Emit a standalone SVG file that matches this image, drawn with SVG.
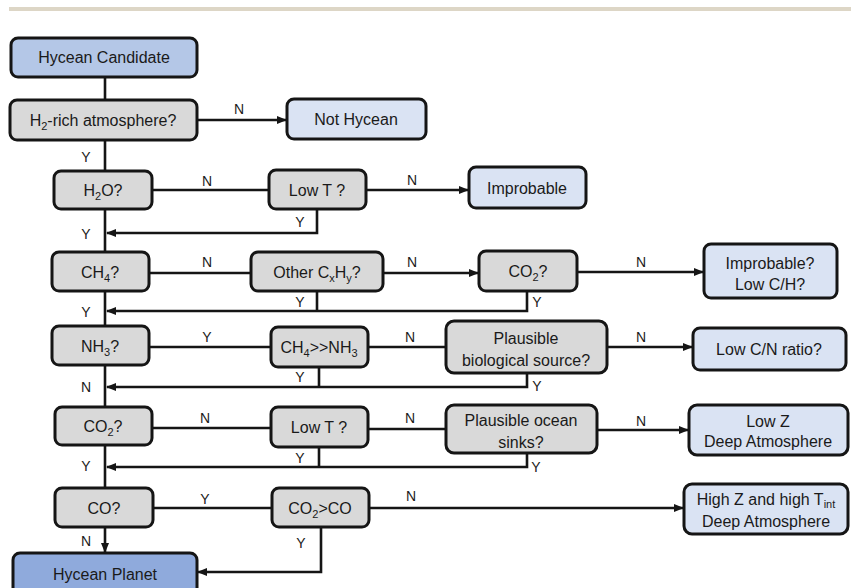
<svg xmlns="http://www.w3.org/2000/svg" width="851" height="588" viewBox="0 0 851 588">
<style>
.box{stroke:#151515;stroke-width:3}
.q{fill:#d9d9d9}
.r{fill:#dae3f3}
.c{fill:#b4c7e7}
.p{fill:#8faadc}
text{font-family:"Liberation Sans",Arial,sans-serif;fill:#1a1a1a}
.t{font-size:16px;text-anchor:middle}
.l{font-size:14px;text-anchor:middle}
.s{font-size:11px}
.cn{fill:none;stroke:#151515;stroke-width:2.6}
</style>
<defs>
<marker id="ah" markerWidth="10" markerHeight="8" refX="9" refY="4" orient="auto" markerUnits="userSpaceOnUse">
<path d="M0,0 L10,4 L0,8 Z" fill="#151515"/>
</marker>
</defs>
<rect x="9" y="7" width="842" height="4" fill="#ddd6c6"/>
<g id="connectors">
<path class="cn" d="M105,77 V100"/>
<path class="cn" d="M197,120 H286" marker-end="url(#ah)"/>
<path class="cn" d="M105,140 V171"/>
<path class="cn" d="M152,190 H269"/>
<path class="cn" d="M366,190 H468" marker-end="url(#ah)"/>
<path class="cn" d="M317,209 V233 H107" marker-end="url(#ah)"/>
<path class="cn" d="M105,209 V252"/>
<path class="cn" d="M149,273 H251"/>
<path class="cn" d="M383,273 H478" marker-end="url(#ah)"/>
<path class="cn" d="M577,272 H703" marker-end="url(#ah)"/>
<path class="cn" d="M317,291 V311"/>
<path class="cn" d="M527,291 V311 H107" marker-end="url(#ah)"/>
<path class="cn" d="M105,291 V326"/>
<path class="cn" d="M149,347 H271"/>
<path class="cn" d="M368,347 H446"/>
<path class="cn" d="M607,347 H692" marker-end="url(#ah)"/>
<path class="cn" d="M319,367 V387"/>
<path class="cn" d="M527,373 V387 H107" marker-end="url(#ah)"/>
<path class="cn" d="M105,365 V407"/>
<path class="cn" d="M152,428 H271"/>
<path class="cn" d="M368,429 H446"/>
<path class="cn" d="M597,430 H688" marker-end="url(#ah)"/>
<path class="cn" d="M319,447 V467"/>
<path class="cn" d="M527,453 V467 H107" marker-end="url(#ah)"/>
<path class="cn" d="M105,445 V488"/>
<path class="cn" d="M153,508 H272"/>
<path class="cn" d="M369,508 H683" marker-end="url(#ah)"/>
<path class="cn" d="M105,527 V552" marker-end="url(#ah)"/>
<path class="cn" d="M321,527 V572 H198" marker-end="url(#ah)"/>
<text class="l" x="239" y="114">N</text>
<text class="l" x="86" y="162">Y</text>
<text class="l" x="207" y="186">N</text>
<text class="l" x="412" y="185">N</text>
<text class="l" x="300" y="227">Y</text>
<text class="l" x="86" y="239">Y</text>
<text class="l" x="207" y="267">N</text>
<text class="l" x="412" y="267">N</text>
<text class="l" x="641" y="267">N</text>
<text class="l" x="300" y="307">Y</text>
<text class="l" x="537" y="307">Y</text>
<text class="l" x="86" y="317">Y</text>
<text class="l" x="207" y="342">Y</text>
<text class="l" x="410" y="342">N</text>
<text class="l" x="641" y="342">N</text>
<text class="l" x="300" y="382">Y</text>
<text class="l" x="537" y="391">Y</text>
<text class="l" x="86" y="392">N</text>
<text class="l" x="205" y="423">N</text>
<text class="l" x="410" y="423">N</text>
<text class="l" x="641" y="426">N</text>
<text class="l" x="300" y="463">Y</text>
<text class="l" x="86" y="471">Y</text>
<text class="l" x="536" y="472">Y</text>
<text class="l" x="205" y="504">Y</text>
<text class="l" x="411" y="501">N</text>
<text class="l" x="86" y="546">N</text>
<text class="l" x="301" y="548">Y</text>
</g>
<g id="candidate"><rect class="box c" x="11" y="38" width="186" height="39" rx="7"/><text class="t" x="104" y="63">Hycean Candidate</text></g>
<g id="h2rich"><rect class="box q" x="10" y="100" width="187" height="40" rx="7"/><text class="t" x="103" y="126">H<tspan class="s" dy="4">2</tspan><tspan dy="-4">-rich atmosphere?</tspan></text></g>
<g id="nothycean"><rect class="box r" x="287" y="99" width="139" height="40" rx="7"/><text class="t" x="356" y="125">Not Hycean</text></g>
<g id="h2o"><rect class="box q" x="54" y="171" width="98" height="38" rx="7"/><text class="t" x="103" y="196">H<tspan class="s" dy="4">2</tspan><tspan dy="-4">O?</tspan></text></g>
<g id="lowt1"><rect class="box q" x="269" y="170" width="97" height="39" rx="7"/><text class="t" x="317" y="196">Low T ?</text></g>
<g id="improbable"><rect class="box r" x="469" y="167" width="117" height="41" rx="7"/><text class="t" x="527" y="194">Improbable</text></g>
<g id="ch4"><rect class="box q" x="52" y="252" width="97" height="39" rx="7"/><text class="t" x="100" y="278">CH<tspan class="s" dy="4">4</tspan><tspan dy="-4">?</tspan></text></g>
<g id="cxhy"><rect class="box q" x="251" y="252" width="132" height="39" rx="7"/><text class="t" x="317" y="278">Other C<tspan class="s" dy="4">x</tspan><tspan dy="-4">H</tspan><tspan class="s" dy="4">y</tspan><tspan dy="-4">?</tspan></text></g>
<g id="co2a"><rect class="box q" x="479" y="251" width="98" height="40" rx="7"/><text class="t" x="528" y="277">CO<tspan class="s" dy="4">2</tspan><tspan dy="-4">?</tspan></text></g>
<g id="improbablelow"><rect class="box r" x="704" y="244" width="133" height="54" rx="7"/><text class="t" x="770" y="269">Improbable?</text><text class="t" x="770" y="290">Low C/H?</text></g>
<g id="nh3"><rect class="box q" x="52" y="326" width="97" height="39" rx="7"/><text class="t" x="100" y="352">NH<tspan class="s" dy="4">3</tspan><tspan dy="-4">?</tspan></text></g>
<g id="ch4nh3"><rect class="box q" x="271" y="327" width="97" height="40" rx="7"/><text class="t" x="319" y="353">CH<tspan class="s" dy="4">4</tspan><tspan dy="-4">&gt;&gt;NH</tspan><tspan class="s" dy="4">3</tspan></text></g>
<g id="biosource"><rect class="box q" x="446" y="321" width="161" height="52" rx="8"/><text class="t" x="526" y="344">Plausible</text><text class="t" x="526" y="366">biological source?</text></g>
<g id="lowcn"><rect class="box r" x="693" y="328" width="153" height="42" rx="7"/><text class="t" x="769" y="355">Low C/N ratio?</text></g>
<g id="co2b"><rect class="box q" x="55" y="407" width="97" height="38" rx="7"/><text class="t" x="103" y="432">CO<tspan class="s" dy="4">2</tspan><tspan dy="-4">?</tspan></text></g>
<g id="lowt2"><rect class="box q" x="271" y="407" width="97" height="40" rx="7"/><text class="t" x="319" y="433">Low T ?</text></g>
<g id="oceansinks"><rect class="box q" x="446" y="405" width="151" height="48" rx="8"/><text class="t" x="521" y="426">Plausible ocean</text><text class="t" x="521" y="448">sinks?</text></g>
<g id="lowz"><rect class="box r" x="689" y="405" width="159" height="50" rx="8"/><text class="t" x="768" y="427">Low Z</text><text class="t" x="768" y="447">Deep Atmosphere</text></g>
<g id="co"><rect class="box q" x="55" y="488" width="98" height="39" rx="7"/><text class="t" x="104" y="514">CO?</text></g>
<g id="co2co"><rect class="box q" x="272" y="488" width="97" height="39" rx="7"/><text class="t" x="320" y="514">CO<tspan class="s" dy="4">2</tspan><tspan dy="-4">&gt;CO</tspan></text></g>
<g id="highz"><rect class="box r" x="684" y="484" width="164" height="50" rx="8"/><text class="t" x="766" y="505">High Z and high T<tspan class="s" dy="3">int</tspan></text><text class="t" x="766" y="527">Deep Atmosphere</text></g>
<g id="planet"><rect class="box p" x="13" y="553" width="184" height="42" rx="7"/><text class="t" x="105" y="580">Hycean Planet</text></g>
</svg>
